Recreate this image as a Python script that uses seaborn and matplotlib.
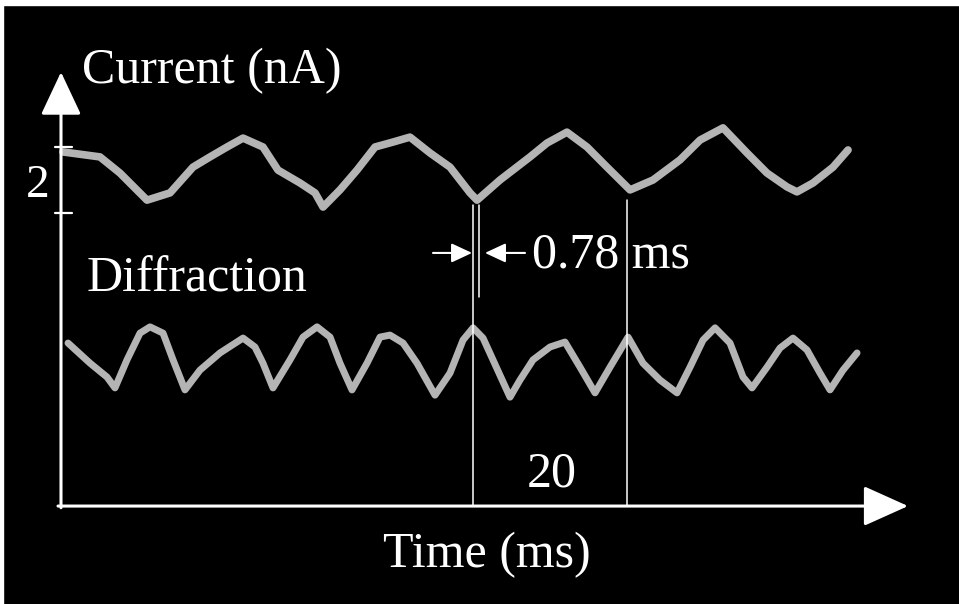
import numpy as np
import pandas as pd
import matplotlib
matplotlib.use("Agg")
import matplotlib.pyplot as plt
import seaborn as sns
from matplotlib.patches import Rectangle

# ---- data (time in ms, signal in nA-equivalent units) ----
current_t = [0.26, 5.06, 7.66, 11.17, 14.16, 17.14, 19.35, 21.56, 23.64, 26.23,
             28.18, 31.04, 32.99, 34.03, 36.23, 38.44, 40.78, 43.12, 45.32, 47.92,
             50.52, 53.12, 54.03, 57.01, 60.91, 63.12, 65.71, 68.31, 70.91, 73.90,
             76.88, 80.39, 82.99, 85.97, 89.09, 91.69, 94.29, 95.58, 97.66, 100.26,
             102.21]
current_v = [1.85, 1.70, 1.21, 0.39, 0.61, 1.39, 1.70, 2.00, 2.27, 2.00,
             1.30, 0.91, 0.61, 0.18, 0.70, 1.30, 2.00, 2.15, 2.30, 1.82,
             1.39, 0.61, 0.39, 1.00, 1.70, 2.12, 2.45, 2.00, 1.39, 0.70,
             1.00, 1.61, 2.21, 2.58, 1.82, 1.21, 0.79, 0.64, 0.91, 1.39,
             1.91]

diffr_t = [0.91, 3.77, 5.97, 7.01, 8.57, 10.26, 11.56, 13.25, 14.55, 16.10,
           18.05, 20.65, 23.64, 25.19, 26.23, 27.53, 29.74, 31.43, 33.25, 34.94,
           36.23, 37.79, 39.74, 41.43, 42.73, 44.42, 46.23, 48.57, 50.52, 52.21,
           53.51, 54.81, 56.10, 58.31, 59.61, 61.30, 63.51, 65.45, 67.40, 69.35,
           71.30, 73.64, 75.58, 77.79, 80.00, 81.69, 83.38, 84.94, 86.88, 88.57,
           89.74, 91.69, 93.38, 95.06, 96.88, 98.57, 99.87, 101.56, 103.38]
diffr_v = [-3.94, -4.55, -4.97, -5.30, -4.45, -3.64, -3.45, -3.64, -4.45, -5.36,
           -4.76, -4.24, -3.79, -4.06, -4.55, -5.30, -4.45, -3.76, -3.45, -3.76,
           -4.55, -5.36, -4.55, -3.76, -3.70, -3.94, -4.55, -5.52, -4.85, -3.85,
           -3.48, -3.79, -4.45, -5.58, -5.06, -4.45, -4.06, -3.91, -4.67, -5.45,
           -4.67, -3.76, -4.55, -5.06, -5.45, -4.67, -3.85, -3.48, -3.94, -4.97,
           -5.30, -4.67, -4.09, -3.79, -4.15, -4.85, -5.36, -4.76, -4.24]

period_start = 53.51      # ms, first marker line
period = 20.0             # ms
delay = 0.78              # ms
tick_values = [0.0, 2.0]
tick_label = "2"

# axis geometry (data units)
x_axis_level = -8.88
y_axis_top = 4.27
x_axis_end = 110.0

df_cur = pd.DataFrame({"t": current_t, "v": current_v})
df_dif = pd.DataFrame({"t": diffr_t, "v": diffr_v})

sns.set_theme(style="dark")
plt.rcParams["font.family"] = ["Liberation Serif", "DejaVu Serif"]

fig = plt.figure(figsize=(9.59, 6.04), dpi=100, facecolor="black")
# thin white scan margins at top and left
fig.patches.append(Rectangle((0, 599 / 604), 1, 5 / 604,
                             transform=fig.transFigure, color="white", zorder=-10))
fig.patches.append(Rectangle((0, 0), 3 / 959, 1,
                             transform=fig.transFigure, color="white", zorder=-10))
ax = fig.add_axes([0, 0, 1, 1])
ax.set_facecolor("none")
ax.set_xlim(-7.922, 116.62)
ax.set_ylim(-11.848, 6.4545)
ax.set_axis_off()

W = "white"
GRAY = "#b4b4b4"

sns.lineplot(data=df_cur, x="t", y="v", ax=ax, color=GRAY, lw=5.5,
             estimator=None, sort=False, zorder=3,
             solid_joinstyle="round", solid_capstyle="round")
sns.lineplot(data=df_dif, x="t", y="v", ax=ax, color=GRAY, lw=5.0,
             estimator=None, sort=False, zorder=3,
             solid_joinstyle="round", solid_capstyle="round")

# axes with arrow heads
ax.annotate("", xy=(0, y_axis_top), xytext=(0, x_axis_level - 0.05),
            arrowprops=dict(arrowstyle="-|>,head_length=1.0,head_width=0.47",
                            mutation_scale=27, lw=2.2, color=W,
                            shrinkA=0, shrinkB=0), zorder=4)
ax.annotate("", xy=(x_axis_end, x_axis_level), xytext=(-0.39, x_axis_level),
            arrowprops=dict(arrowstyle="-|>,head_length=1.0,head_width=0.45",
                            mutation_scale=28, lw=2.2, color=W,
                            shrinkA=0, shrinkB=0), zorder=4)

# y ticks
for tv in tick_values:
    ax.plot([-0.78, 1.43], [tv, tv], color=W, lw=1.6, zorder=4)
ax.text(-1.43, 0.48, tick_label, color=W, fontsize=34, ha="right", va="baseline")

# marker lines
t1 = period_start
t2 = period_start + delay
t3 = period_start + period
ax.plot([t1, t1], [0.24, x_axis_level], color=W, lw=1.1, zorder=5)
ax.plot([t2, t2], [0.24, -2.55], color=W, lw=1.1, zorder=5)
ax.plot([t3, t3], [0.39, x_axis_level], color=W, lw=1.1, zorder=5)

# delay arrows
arr_kw = dict(arrowstyle="-|>,head_length=0.9,head_width=0.42", mutation_scale=14,
              lw=1.5, color=W, shrinkA=0, shrinkB=0)
ax.annotate("", xy=(t1 - 0.13, -1.21), xytext=(48.31, -1.21), arrowprops=arr_kw)
ax.annotate("", xy=(t2 + 0.77, -1.21), xytext=(60.26, -1.21), arrowprops=arr_kw)

# texts
fs = 36
ax.text(2.73, 3.94, "Current (nA)", color=W, fontsize=fs, ha="left", va="baseline")
ax.text(3.38, -2.39, "Diffraction", color=W, fontsize=fs, ha="left", va="baseline")
ax.text(61.17, -1.64, f"{delay:.2f} ms", color=W, fontsize=fs, ha="left", va="baseline")
ax.text((t1 + t3) / 2 + 0.2, -8.30, f"{period:.0f}", color=W, fontsize=fs,
        ha="center", va="baseline")
ax.text(55.32, -10.73, "Time (ms)", color=W, fontsize=fs, ha="center", va="baseline")

fig.savefig("out.png", dpi=100, facecolor=fig.get_facecolor())
